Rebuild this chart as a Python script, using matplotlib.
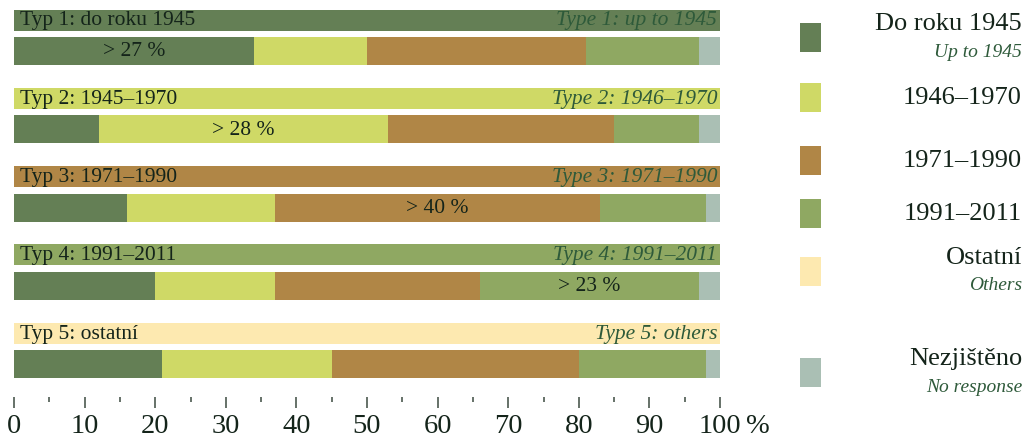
import matplotlib
matplotlib.use("Agg")
import matplotlib.pyplot as plt
from matplotlib.patches import Rectangle

plt.rcParams['font.family'] = ['Liberation Serif', 'DejaVu Serif']

# --- data -------------------------------------------------------------
type_labels_cz = ["Typ 1: do roku 1945", "Typ 2: 1945–1970", "Typ 3: 1971–1990",
                  "Typ 4: 1991–2011", "Typ 5: ostatní"]
type_labels_en = ["Type 1: up to 1945", "Type 2: 1946–1970", "Type 3: 1971–1990",
                  "Type 4: 1991–2011", "Type 5: others"]
# share of answers (%) per period, one list per type
up_to_1945 = [34, 12, 16, 20, 21]
p1946_1970 = [16, 41, 21, 17, 24]
p1971_1990 = [31, 32, 46, 29, 35]
p1991_2011 = [16, 12, 15, 31, 18]
no_response = [3, 3, 2, 3, 2]
# highlighted segment and its note, per type
highlight_index = [0, 1, 2, 3, None]
highlight_text = ["> 27 %", "> 28 %", "> 40 %", "> 23 %", None]

x_major = [0, 10, 20, 30, 40, 50, 60, 70, 80, 90, 100]
x_minor = [5, 15, 25, 35, 45, 55, 65, 75, 85, 95]
x_unit = "%"

legend_cz = ["Do roku 1945", "1946–1970", "1971–1990", "1991–2011", "Ostatní", "Nezjištěno"]
legend_en = ["Up to 1945", None, None, None, "Others", "No response"]

# --- styling ----------------------------------------------------------
c_dark = "#647f55"
c_yellow = "#cfd966"
c_brown = "#b08646"
c_green = "#8fa862"
c_cream = "#fde9b0"
c_grey = "#aabfb4"
segment_colors = [c_dark, c_yellow, c_brown, c_green, c_grey]
header_colors = [c_dark, c_yellow, c_brown, c_green, c_cream]
legend_colors = [c_dark, c_yellow, c_brown, c_green, c_cream, c_grey]
txt_dark = "#14241a"
txt_green = "#2e5a3a"
tick_col = "#3c4a40"

W, H = 1028, 443
fig = plt.figure(figsize=(W / 100, H / 100), dpi=100)

# main axes: x in percent, y in pixel rows (top = 0)
left_px, right_px, bottom_px = 14, 720, 397
ax = fig.add_axes([left_px / W, (H - bottom_px) / H, (right_px - left_px) / W, bottom_px / H])
ax.set_xlim(0, 100)
ax.set_ylim(bottom_px, 0)

series = [up_to_1945, p1946_1970, p1971_1990, p1991_2011, no_response]
step = 78.3
for i in range(len(type_labels_cz)):
    hy = 20 + step * i
    by = 51 + step * i
    ax.barh(hy, 100, left=0, height=21, color=header_colors[i], edgecolor="none")
    ax.text(0.9, hy + 1, type_labels_cz[i], ha="left", va="center",
            fontsize=15.5, color=txt_dark)
    ax.text(99.6, hy + 1, type_labels_en[i], ha="right", va="center",
            fontsize=15.5, style="italic", color=txt_green)
    cum = 0
    for k, s in enumerate(series):
        v = s[i]
        ax.barh(by, v, left=cum, height=28, color=segment_colors[k], edgecolor="none")
        if highlight_index[i] == k:
            ax.text(cum + v / 2, by + 1, highlight_text[i], ha="center", va="center",
                    fontsize=15.5, color=txt_dark)
        cum += v

for sp in ax.spines.values():
    sp.set_visible(False)
ax.set_yticks([])
ax.set_xticks(x_major)
ax.set_xticklabels([str(t) for t in x_major])
ax.set_xticks(x_minor, minor=True)
tick_len, tick_pad, tick_fs = 8, 4.5, 20.5
ax.tick_params(axis="x", which="major", length=tick_len, width=1.1, color=tick_col,
               pad=tick_pad, labelsize=tick_fs, labelcolor=txt_dark)
ax.tick_params(axis="x", which="minor", length=3.5, width=1.1, color=tick_col)
# unit sign after the last tick label, on the same line
ax.annotate(x_unit, xy=(x_major[-1], 0), xycoords=("data", "axes fraction"),
            xytext=(19, -(tick_len + tick_pad)), textcoords="offset points",
            ha="left", va="top", fontsize=tick_fs, color=txt_dark,
            annotation_clip=False)

# legend drawn in figure pixel coordinates
lg = fig.add_axes([0, 0, 1, 1])
lg.set_xlim(0, W)
lg.set_ylim(H, 0)
lg.axis("off")
sq_tops = [23, 83, 146, 199, 257, 358]
for j, name in enumerate(legend_cz):
    top = sq_tops[j]
    lg.add_patch(Rectangle((800, top), 21, 29, color=legend_colors[j], lw=0))
    if legend_en[j] is None:
        lg.text(1022, top + 15, name, ha="right", va="center", fontsize=19, color=txt_dark)
    else:
        lg.text(1022, top + 1, name, ha="right", va="center", fontsize=19, color=txt_dark)
        lg.text(1022, top + 29, legend_en[j], ha="right", va="center", fontsize=14,
                style="italic", color=txt_green)

fig.savefig("out.png", dpi=100, facecolor="white")
